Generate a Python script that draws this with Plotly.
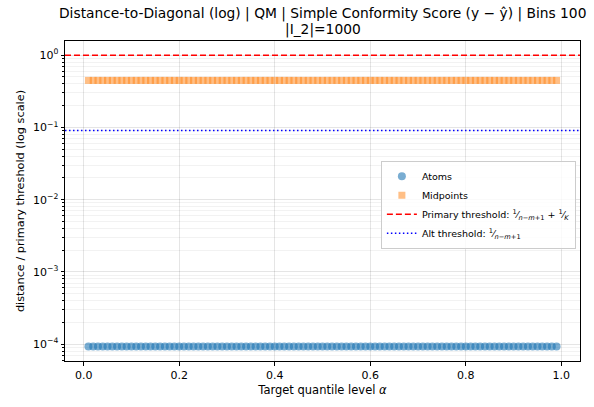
import plotly.graph_objects as go

# Target quantile levels alpha = 0.01 ... 0.99
alpha_levels = [i / 100 for i in range(1, 100)]

# Normalised distance-to-diagonal (distance / primary threshold)
atoms_dist = [9.3e-5] * len(alpha_levels)
midpoints_dist = [0.448] * len(alpha_levels)

# Threshold levels relative to the primary threshold
primary_thr = 1.0
alt_thr = 0.0908

ytick_vals = [1e-4, 1e-3, 1e-2, 1e-1, 1e0]
ytick_text = ["10<sup>−4</sup>", "10<sup>−3</sup>", "10<sup>−2</sup>", "10<sup>−1</sup>", "10<sup>0</sup>"]
yminor_vals = [m * 10.0 ** e for e in range(-5, 1) for m in range(2, 10)]
xtick_vals = [0.0, 0.2, 0.4, 0.6, 0.8, 1.0]
xtick_text = ["0.0", "0.2", "0.4", "0.6", "0.8", "1.0"]

title_lines = [
    "Distance-to-Diagonal (log) | QM | Simple Conformity Score (y − ŷ) | Bins 100",
    "|I_2|=1000",
]

FONT = "DejaVu Sans"
GRID = "rgba(0,0,0,0.10)"
MINOR_GRID = "rgba(0,0,0,0.05)"

fig = go.Figure()
fig.add_trace(go.Scatter(
    x=alpha_levels, y=atoms_dist, mode="markers", name="Atoms",
    marker=dict(symbol="circle", size=8, color="#1f77b4", opacity=0.6, line=dict(width=0)),
    legendrank=1,
))
fig.add_trace(go.Scatter(
    x=alpha_levels, y=midpoints_dist, mode="markers", name="Midpoints",
    marker=dict(symbol="square", size=7, color="#ff7f0e", opacity=0.5, line=dict(width=0)),
    legendrank=2,
))
fig.add_trace(go.Scatter(
    x=[-0.039, 1.039], y=[primary_thr, primary_thr], mode="lines",
    name="Primary threshold: <sup>1</sup>⁄<sub><i>n</i>−<i>m</i>+1</sub> + <sup>1</sup>⁄<sub><i>K</i></sub>",
    line=dict(color="red", width=1.5, dash="6px,3px"), legendrank=3,
))
fig.add_trace(go.Scatter(
    x=[-0.039, 1.039], y=[alt_thr, alt_thr], mode="lines",
    name="Alt threshold: <sup>1</sup>⁄<sub><i>n</i>−<i>m</i>+1</sub>",
    line=dict(color="blue", width=1.5, dash="1.5px,2.5px"), legendrank=4,
))

# Two-line title placed above the plotting area
for text, ypos in zip(title_lines, [1.0867, 1.037]):
    fig.add_annotation(
        text=text, xref="paper", yref="paper", x=0.5, y=ypos,
        xanchor="center", yanchor="middle", showarrow=False,
        font=dict(family=FONT, size=13.8, color="black"),
    )

fig.update_layout(
    width=594, height=407,
    margin=dict(l=65, r=14, t=41, b=43),
    paper_bgcolor="white", plot_bgcolor="white",
    font=dict(family=FONT, size=11, color="black"),
    showlegend=True,
    legend=dict(
        x=0.992, xanchor="right", y=0.626, yanchor="top",
        bgcolor="rgba(255,255,255,0.8)", bordercolor="#cccccc", borderwidth=1,
        font=dict(family=FONT, size=9.5), itemwidth=30, tracegroupgap=0,
    ),
)
fig.update_xaxes(
    range=[-0.039, 1.039], tickvals=xtick_vals, ticktext=xtick_text,
    showline=True, linecolor="black", linewidth=1, mirror=True,
    ticks="outside", ticklen=3.5, tickcolor="black",
    showgrid=True, gridcolor=GRID, gridwidth=0.8, zeroline=False,
    tickfont=dict(size=11),
    title=dict(text="Target quantile level <i>α</i>", font=dict(size=11.5), standoff=5),
)
fig.update_yaxes(
    type="log", range=[-4.234, 0.197], tickvals=ytick_vals, ticktext=ytick_text,
    showline=True, linecolor="black", linewidth=1, mirror=True,
    ticks="outside", ticklen=3.5, tickcolor="black",
    showgrid=True, gridcolor=GRID, gridwidth=0.8, zeroline=False,
    tickfont=dict(size=11),
    minor=dict(tickvals=yminor_vals, ticks="outside", ticklen=2, tickcolor="black",
               showgrid=True, gridcolor=MINOR_GRID, gridwidth=0.6),
    title=dict(text="distance / primary threshold (log scale)", font=dict(size=11.3), standoff=6),
)

fig.write_html("out.html")
